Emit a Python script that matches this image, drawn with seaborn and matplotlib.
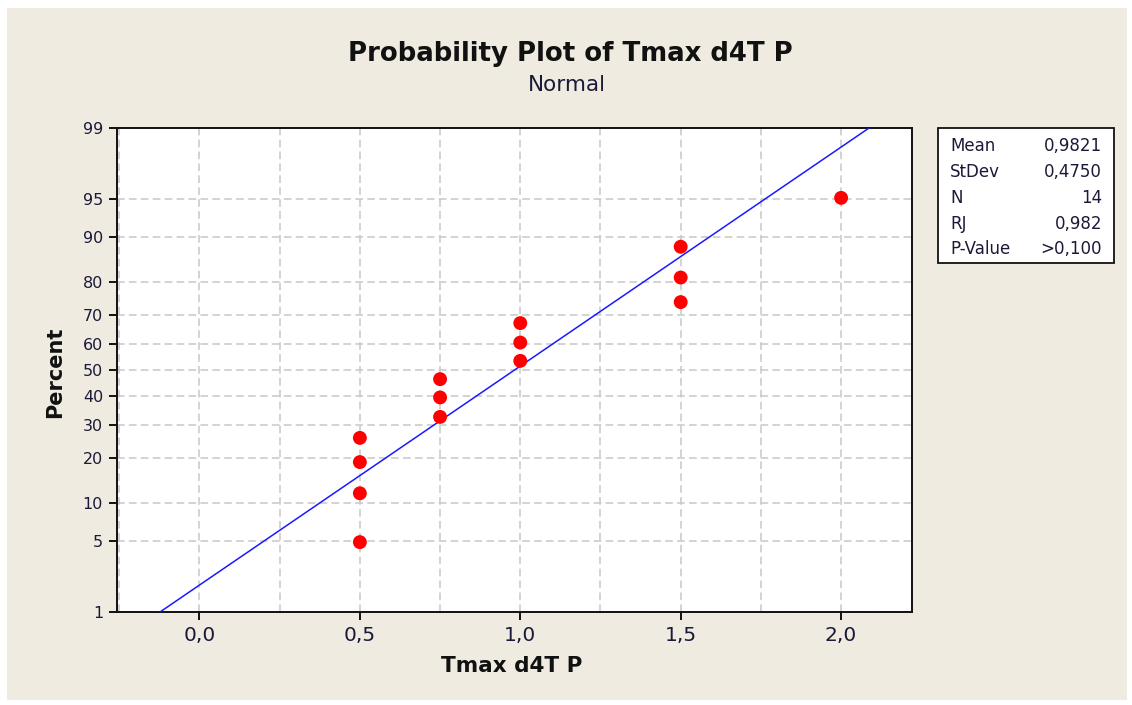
import math
import numpy as np
import pandas as pd
import matplotlib
matplotlib.use("Agg")
import matplotlib.pyplot as plt
from matplotlib.patches import Rectangle
import seaborn as sns

# ---------------- data ----------------
tmax_values = [0.5, 0.5, 0.5, 0.5, 0.75, 0.75, 0.75, 1.0, 1.0, 1.0, 1.5, 1.5, 1.5, 2.0]
percent_values = [4.9, 11.8, 18.8, 25.7, 32.6, 39.6, 46.5, 53.5, 60.4, 67.4, 74.3, 81.3, 88.2, 95.1]
fit_mean = 0.9821
fit_stdev = 0.4750
stat_labels = ["Mean", "StDev", "N", "RJ", "P-Value"]
stat_values = ["0,9821", "0,4750", "14", "0,982", ">0,100"]
y_ticks = [1, 5, 10, 20, 30, 40, 50, 60, 70, 80, 90, 95, 99]
x_ticks = [0.0, 0.5, 1.0, 1.5, 2.0]
x_tick_labels = ["0,0", "0,5", "1,0", "1,5", "2,0"]
x_minor = [-0.25, 0.25, 0.75, 1.25, 1.75]
line_percents = [1, 99]


# ---------------- normal quantile helpers ----------------
def norm_ppf(p):
    p = np.asarray(p, dtype=float)
    a = [-3.969683028665376e+01, 2.209460984245205e+02, -2.759285104469687e+02,
         1.383577518672690e+02, -3.066479806614716e+01, 2.506628277459239e+00]
    b = [-5.447609879822406e+01, 1.615858368580409e+02, -1.556989798598866e+02,
         6.680131188771972e+01, -1.328068155288572e+01]
    c = [-7.784894002430293e-03, -3.223964580411365e-01, -2.400758277161838e+00,
         -2.549732539343734e+00, 4.374664141464968e+00, 2.938163982698783e+00]
    d = [7.784695709041462e-03, 3.224671290700398e-01, 2.445134137142996e+00,
         3.754408661907416e+00]
    plow = 0.02425
    x = np.empty_like(p)
    lo = p < plow
    hi = p > 1 - plow
    mid = ~(lo | hi)
    q = np.sqrt(-2 * np.log(p[lo]))
    x[lo] = (((((c[0]*q+c[1])*q+c[2])*q+c[3])*q+c[4])*q+c[5]) / \
        ((((d[0]*q+d[1])*q+d[2])*q+d[3])*q+1)
    q = np.sqrt(-2 * np.log(1 - p[hi]))
    x[hi] = -(((((c[0]*q+c[1])*q+c[2])*q+c[3])*q+c[4])*q+c[5]) / \
        ((((d[0]*q+d[1])*q+d[2])*q+d[3])*q+1)
    q = p[mid] - 0.5
    r = q * q
    x[mid] = (((((a[0]*r+a[1])*r+a[2])*r+a[3])*r+a[4])*r+a[5])*q / \
        (((((b[0]*r+b[1])*r+b[2])*r+b[3])*r+b[4])*r+1)
    return x


_erf = np.vectorize(math.erf)


def pct_forward(v):
    v = np.clip(np.asarray(v, dtype=float), 1e-7, 100 - 1e-7)
    return norm_ppf(v / 100.0)


def pct_inverse(z):
    z = np.asarray(z, dtype=float)
    return 100.0 * 0.5 * (1 + _erf(z / math.sqrt(2)))


# ---------------- figure ----------------
sns.set_theme(style="white")
plt.rcParams["font.family"] = ["DejaVu Sans"]
plt.rcParams["xtick.bottom"] = True
plt.rcParams["ytick.left"] = True

BG = "#EFEBE1"
TXT = "#1a1a38"

fig = plt.figure(figsize=(11.32, 7.05), dpi=100, facecolor="white")
fig.patches.append(Rectangle((7 / 1132, 1 - 700 / 705), 1120 / 1132, 692 / 705,
                             transform=fig.transFigure, facecolor=BG,
                             edgecolor="none", zorder=-10))

ax = fig.add_axes([117 / 1132, 1 - 612 / 705, 795 / 1132, 484 / 705])
ax.set_facecolor("white")

df_pts = pd.DataFrame({"x": tmax_values, "p": percent_values})
df_line = pd.DataFrame({
    "p": line_percents,
    "x": [fit_mean + fit_stdev * float(norm_ppf([pp / 100.0])[0]) for pp in line_percents],
})

ax.set_yscale("function", functions=(pct_forward, pct_inverse))

sns.lineplot(data=df_line, x="x", y="p", ax=ax, color="#1a1aff", lw=1.1,
             sort=False, zorder=3)
sns.scatterplot(data=df_pts, x="x", y="p", ax=ax, color="#ff0000", s=100,
                edgecolor="none", zorder=4)

ax.set_ylim(1, 99)
ax.set_xlim(-0.257, 2.221)

ax.set_yticks(y_ticks)
ax.set_yticklabels([str(t) for t in y_ticks])
ax.yaxis.set_minor_locator(matplotlib.ticker.NullLocator())
ax.set_xticks(x_ticks)
ax.set_xticklabels(x_tick_labels)
ax.set_xticks(x_minor, minor=True)

grid_kw = dict(color="#c8c8c8", lw=1.1, linestyle=(0, (5, 2.8)))
ax.grid(True, which="major", axis="both", **grid_kw)
ax.grid(True, which="minor", axis="x", **grid_kw)
ax.set_axisbelow(True)

for s in ax.spines.values():
    s.set_color("#111111")
    s.set_linewidth(1.4)
    s.set_visible(True)

ax.tick_params(axis="both", which="major", direction="out", length=6, width=1.4,
               color="#111111", labelcolor=TXT, bottom=True, left=True)
ax.tick_params(axis="y", which="major", labelsize=11.5, pad=4)
ax.tick_params(axis="x", which="major", labelsize=14.5, pad=4)
ax.tick_params(axis="x", which="minor", length=0)

ax.set_xlabel("")
ax.set_ylabel("")

fig.text(570 / 1132, 1 - 54 / 705, "Probability Plot of Tmax d4T P",
         ha="center", va="center", fontsize=18.7, fontweight="bold", color="#111111")
fig.text(567 / 1132, 1 - 85 / 705, "Normal", ha="center", va="center",
         fontsize=15.5, color=TXT)
fig.text(512 / 1132, 1 - 666 / 705, "Tmax d4T P", ha="center", va="center",
         fontsize=15.5, fontweight="bold", color="#111111")
fig.text(55 / 1132, 1 - 372 / 705, "Percent", ha="center", va="center",
         rotation=90, fontsize=15, fontweight="bold", color="#111111")

# statistics box
fig.patches.append(Rectangle((938 / 1132, 1 - 263 / 705), 176 / 1132, 135 / 705,
                             transform=fig.transFigure, facecolor="white",
                             edgecolor="#111111", lw=1.3, zorder=1))
row_y = [146, 172, 198, 224, 249]
for lab, val, yy in zip(stat_labels, stat_values, row_y):
    fig.text(950 / 1132, 1 - yy / 705, lab, ha="left", va="center",
             fontsize=12, color=TXT, zorder=2)
    fig.text(1102 / 1132, 1 - yy / 705, val, ha="right", va="center",
             fontsize=12, color=TXT, zorder=2)

fig.savefig("out.png", dpi=100, facecolor="white")
